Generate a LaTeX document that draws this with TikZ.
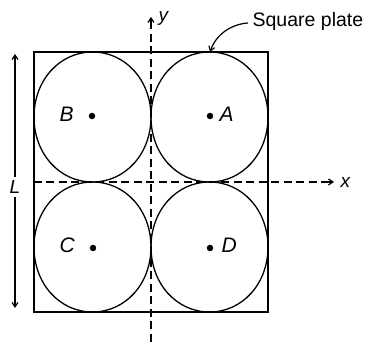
\documentclass[tikz,border=0pt]{standalone}
\usepackage{fontspec}
\setmainfont{Liberation Sans}
\usetikzlibrary{arrows.meta}
\begin{document}
\begin{tikzpicture}[x=1pt,y=-1pt,
  line width=1.3pt,
  disc/.pic={\draw (58.5,0) .. controls (58.5,36.7) and (33,65) .. (0,65)
      .. controls (-33,65) and (-58.5,36.7) .. (-58.5,0)
      .. controls (-58.5,-36.7) and (-33,-65) .. (0,-65)
      .. controls (33,-65) and (58.5,-36.7) .. (58.5,0) -- cycle;},
  dot/.style={circle,fill,inner sep=0pt,minimum size=6.5pt},
  lbl/.style={font=\fontsize{21}{24}\selectfont\itshape,inner sep=0pt,anchor=base west},
  albl/.style={font=\fontsize{19}{22}\selectfont\itshape,inner sep=0pt,anchor=base west},
  axis/.style={dashed,dash pattern=on 8pt off 4.5pt,line width=1.2pt},
  tip/.style={-{Straight Barb[length=4.5pt,width=6pt,line width=1.2pt]}}
]
\useasboundingbox (0,0) rectangle (368,342);
% plate
\node[draw,rectangle,minimum width=234pt,minimum height=260pt,inner sep=0pt] (plate) at (151,182) {};
% discs
\pic at (92.5,117) {disc};
\pic at (209.5,117) {disc};
\pic at (92.5,247) {disc};
\pic at (209.5,247) {disc};
% centres
\node[dot] (dB) at (92,116) {};
\node[dot] (dA) at (210,116) {};
\node[dot] (dC) at (93,248) {};
\node[dot] (dD) at (210,248) {};
\node[lbl] (lB) at (59,121.5) {B};
\node[lbl] (lA) at (219,121.5) {A};
\node[lbl] (lC) at (59,252.5) {C};
\node[lbl] (lD) at (221,252.5) {D};
% axes
\coordinate (ytop) at (151,17);
\coordinate (ybot) at (151,342);
\coordinate (xl) at (34,182);
\coordinate (xr) at (334,182);
\draw[axis] (ybot) -- (151,24);
\draw[tip] (151,26) -- (ytop);
\draw[axis] (xl) -- (327,182);
\draw[tip] (325,182) -- (xr);
\node[albl] (lx) at (340,188) {x};
\node[albl] (ly) at (158,22) {y};
% L dimension
\node[albl,fill=white,inner sep=3pt,anchor=center] (lL) at (15,187) {L};
\coordinate (Ltop) at (15,54);
\coordinate (Lbot) at (15,308);
\draw[tip,line width=1.2pt] (lL) -- (Ltop);
\draw[tip,line width=1.2pt] (lL) -- (Lbot);
% Square plate label
\node[font=\fontsize{19.5}{22}\selectfont,anchor=base west,inner sep=0pt] (sp) at (252,27) {Square plate};
\coordinate (sptip) at (210,52);
\draw[tip,line width=1.2pt] (248,23) .. controls (232,24) and (216,34) .. (sptip);
\end{tikzpicture}
\end{document}
